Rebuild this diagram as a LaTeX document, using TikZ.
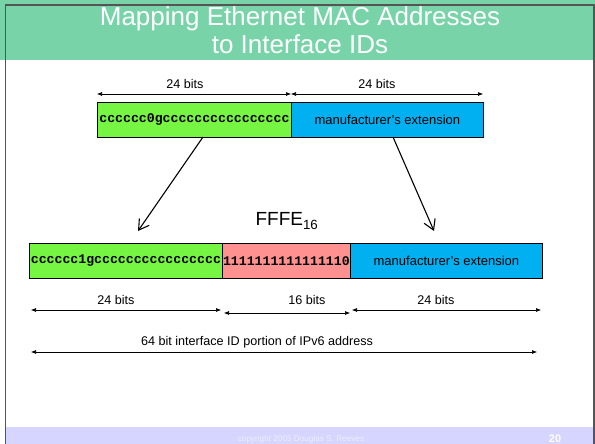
\documentclass[tikz,border=0pt]{standalone}
\usepackage{fontspec}
\setmainfont{Liberation Sans}
\newfontfamily\bitfont{Liberation Mono}
\usetikzlibrary{arrows.meta,calc}
\definecolor{titlegreen}{RGB}{120,212,168}
\definecolor{limegreen}{RGB}{118,245,66}
\definecolor{extblue}{RGB}{0,176,240}
\definecolor{fillpink}{RGB}{255,145,145}
\definecolor{footlav}{RGB}{213,213,255}
\definecolor{framegray}{RGB}{85,85,85}
\definecolor{foottext}{RGB}{238,238,255}
\tikzset{
  field/.style={draw=black, line width=0.8pt, inner sep=0pt, anchor=north west, minimum height=35pt},
  bits/.style={font=\bitfont\bfseries\fontsize{13.2}{15}\selectfont},
  lbl/.style={font=\fontsize{12.6}{14}\selectfont, inner sep=0pt},
  extlbl/.style={font=\fontsize{13}{15}\selectfont},
  titleline/.style={white, font=\fontsize{26}{28}\selectfont, anchor=base, inner sep=0pt},
  dim/.style={line width=0.6pt, {Latex[length=5pt,width=4pt]}-{Latex[length=5pt,width=4pt]}},
  mapto/.style={line width=1.1pt, -{Straight Barb[length=10pt,width=12pt,line width=1.1pt]}}
}
\begin{document}
\begin{tikzpicture}[x=1pt,y=-1pt]
\useasboundingbox (0,0) rectangle (595,444);
% slide background, title band and footer band
\fill[white] (0,0) rectangle (595,444);
\fill[titlegreen] (0,0) rectangle (595,60);
\fill[footlav] (5,427) rectangle (594,444);
\draw[framegray, line width=1.2pt] (5.5,444) -- (5.5,5) -- (594,5) -- (594,444);
\node[titleline] (title1) at (300,26) {Mapping Ethernet MAC Addresses};
\node[titleline] (title2) at (300,54) {to Interface IDs};
\node[foottext, font=\fontsize{8.2}{10}\selectfont] (copy) at (301,439) {copyright 2005 Douglas S. Reeves};
\node[white, font=\bfseries\fontsize{11}{13}\selectfont] (page) at (555,439) {20};

% MAC address (48 bits)
\node[field, fill=limegreen, minimum width=194pt, bits] (mac1) at (97,102) {cccccc0gcccccccccccccccc};
\node[field, fill=extblue, minimum width=192pt, extlbl] (mac2) at (291,102) {manufacturer's extension};
\coordinate (t0) at (97,94);
\coordinate (t1) at (291,94);
\coordinate (t2) at (483,94);
\draw[dim] (t0) -- (t1);
\draw[dim] (t1) -- (t2);
\node[lbl] (tl1) at (185,84) {24 bits};
\node[lbl] (tl2) at (377,84) {24 bits};

% Interface ID (64 bits)
\node[field, fill=limegreen, minimum width=193pt, bits] (eid1) at (29,243) {cccccc1gcccccccccccccccc};
\node[field, fill=fillpink, minimum width=128pt, bits] (eid2) at (222,243) {1111111111111110};
\node[field, fill=extblue, minimum width=192pt, extlbl] (eid3) at (350,243) {manufacturer's extension};
\node[font=\fontsize{19}{21}\selectfont, inner sep=0pt] (fffe) at (287,221) {FFFE\textsubscript{16}};

% mapping arrows
\coordinate (m1) at (203,137);
\coordinate (m2) at (138,231);
\coordinate (m3) at (393,137);
\coordinate (m4) at (434,231);
\draw[mapto] (m1) -- (m2);
\draw[mapto] (m3) -- (m4);

% field widths
\coordinate (b0) at (31,310);
\coordinate (b1) at (221,310);
\coordinate (b2) at (224,313);
\coordinate (b3) at (350,313);
\coordinate (b4) at (352,310);
\coordinate (b5) at (541,310);
\draw[dim] (b0) -- (b1);
\draw[dim] (b2) -- (b3);
\draw[dim] (b4) -- (b5);
\node[lbl] (bl1) at (116,300) {24 bits};
\node[lbl] (bl2) at (307,300) {16 bits};
\node[lbl] (bl3) at (436,300) {24 bits};

% total width
\coordinate (c0) at (31,352);
\coordinate (c1) at (537,352);
\draw[dim] (c0) -- (c1);
\node[lbl] (cl) at (257,342) {64 bit interface ID portion of IPv6 address};
\end{tikzpicture}
\end{document}
